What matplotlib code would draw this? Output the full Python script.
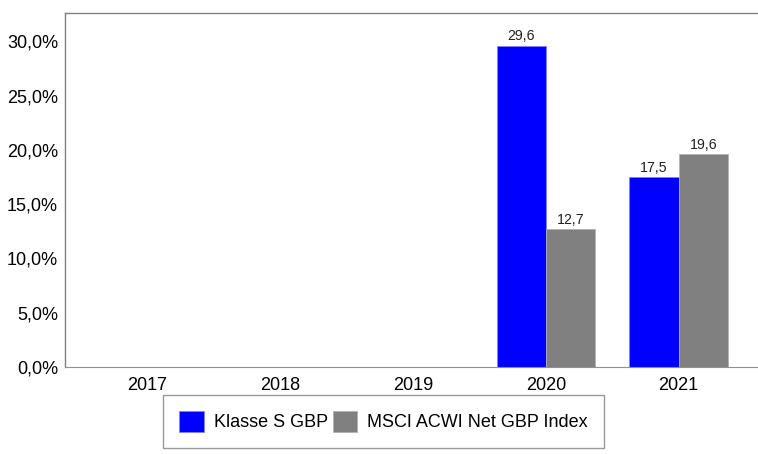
import numpy as np
import matplotlib.pyplot as plt
from matplotlib.ticker import FuncFormatter

years = ["2017", "2018", "2019", "2020", "2021"]
fund = [np.nan, np.nan, np.nan, 29.6, 17.5]
index = [np.nan, np.nan, np.nan, 12.7, 19.6]
fund_name = "Klasse S GBP"
index_name = "MSCI ACWI Net GBP Index"

plt.rcParams['font.family'] = ['Liberation Sans', 'DejaVu Sans']

fig = plt.figure(figsize=(7.58, 4.54), dpi=100)
ax = fig.add_axes([65/758, 87/454, 692/758, 354/454])

x = np.arange(len(years))
w = 0.37
b1 = ax.bar(x - w/2, fund, w, color='#0000ff', edgecolor='#8080ff', linewidth=0.6, label=fund_name)
b2 = ax.bar(x + w/2, index, w, color='#808080', edgecolor='#b0b0b0', linewidth=0.6, label=index_name)

for bars, vals in ((b1, fund), (b2, index)):
    for r, v in zip(bars, vals):
        if np.isnan(v):
            continue
        ax.text(r.get_x() + r.get_width()/2, v + 0.2, f"{v:.1f}".replace(".", ","),
                ha='center', va='bottom', fontsize=10.2, color='#202020')

ax.set_xlim(-0.62, 4.59)
ax.set_ylim(0, 32.6)
ax.set_xticks(x)
ax.set_xticklabels(years)
ax.set_yticks(np.arange(0, 31, 5))
ax.yaxis.set_major_formatter(FuncFormatter(lambda v, p: f"{v:.1f}%".replace(".", ",")))
ax.tick_params(axis='both', length=0, labelsize=13, colors='#000000')
ax.tick_params(axis='x', pad=7)
ax.tick_params(axis='y', pad=5)

for s in ('left', 'top'):
    ax.spines[s].set_color('#808080')
    ax.spines[s].set_linewidth(1)
ax.spines['right'].set_visible(False)
ax.spines['bottom'].set_color('#909090')
ax.spines['bottom'].set_linestyle((0, (1, 1)))

leg = fig.legend(loc='upper left', bbox_to_anchor=(163/758, 1 - 395/454), ncol=2,
                 fontsize=13, frameon=True, fancybox=False, handlelength=1.35,
                 handleheight=1.35, handletextpad=0.55, columnspacing=0.3,
                 borderpad=0.9, borderaxespad=0)
leg.get_frame().set_edgecolor('#808080')
leg.get_frame().set_linewidth(1)

fig.savefig("out.png", dpi=100)
